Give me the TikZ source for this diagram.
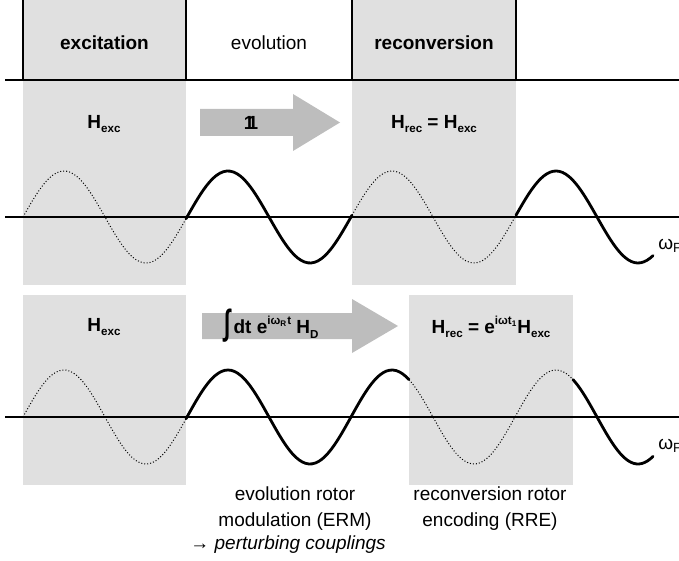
\documentclass[tikz,border=0pt]{standalone}
\usepackage{fontspec}
\setmainfont{Liberation Sans}
\definecolor{panelgray}{HTML}{E0E0E0}
\definecolor{arrowgray}{HTML}{BDBDBD}
\newcommand{\sbs}[1]{\raisebox{-0.45ex}{\fontsize{5.8}{6}\selectfont\bfseries #1}}
\newcommand{\sps}[1]{\raisebox{0.9ex}{\fontsize{5.8}{6}\selectfont\bfseries #1}}
\begin{document}
\begin{tikzpicture}[x=0.5pt,y=-0.5pt,
  greybox/.style={fill=panelgray,draw=none},
  bigarrow/.style={fill=arrowgray,draw=none},
  axisline/.style={line width=0.7pt},
  sepline/.style={line width=0.6pt},
  wsolid/.style={line width=1.4pt,line cap=round},
  wdot/.style={line width=0.5pt,densely dotted},
  lbl/.style={font=\fontsize{9.5}{10.5}\selectfont,inner sep=0pt},
  blbl/.style={font=\fontsize{9.5}{10.5}\selectfont\bfseries,inner sep=0pt}]
\useasboundingbox (0,0) rectangle (679,561);
% shaded columns
\fill[greybox] (23,0) rectangle (186,285);
\fill[greybox] (352,0) rectangle (516,285);
\fill[greybox] (23,295) rectangle (186,485);
\fill[greybox] (409,295) rectangle (573,485);
% header lines
\draw[sepline] (5,80) -- (679,80);
\foreach \xx in {23,186,352,516} \draw[sepline] (\xx,0) -- (\xx,80);
% header labels
\node[blbl] (exc) at (104.5,43) {excitation};
\node[lbl] (evo) at (269,43) {evolution};
\node[blbl] (rec) at (434,43) {reconversion};
% upper panel
\fill[bigarrow] (200,109) -- (293,109) -- (293,94) -- (340,122.5) -- (293,151) -- (293,136) -- (200,136) -- cycle;
\node[blbl] (one) at (251,123) {1\kern-0.37em1};
\node[blbl] (hexcA) at (104,124) {H\sbs{exc}};
\node[blbl] (hrecA) at (434,124) {H\sbs{rec} = H\sbs{exc}};
\draw[axisline] (5,217) -- (679,217);
\draw[wdot] plot[domain=23:186,samples=50,smooth] (\x,{217-46*sin((\x-23)/164*360)});
\draw[wsolid] plot[domain=186:352,samples=50,smooth] (\x,{217-46*sin((\x-23)/164*360)});
\draw[wdot] plot[domain=352:516,samples=50,smooth] (\x,{217-46*sin((\x-23)/164*360)});
\draw[wsolid] plot[domain=516:653,samples=45,smooth] (\x,{217-46*sin((\x-23)/164*360)});
\node[lbl,anchor=west] (omA) at (658,246) {ω\textsubscript{F}};
% lower panel
\fill[bigarrow] (202,313) -- (352,313) -- (352,299) -- (398,326) -- (352,353) -- (352,339) -- (202,339) -- cycle;
\node[blbl,anchor=west] (integ) at (224,326) {\raisebox{-0.1ex}{\scalebox{1}[1.6]{\fontsize{11}{12}\selectfont ∫}}\,dt e\sps{iω\textsubscript{R}t} H\sbs{D}};
\node[blbl] (hexcB) at (104,327) {H\sbs{exc}};
\node[blbl] (hrecB) at (491,327) {H\sbs{rec} = e\sps{iωt\textsubscript{1}}H\sbs{exc}};
\draw[axisline] (5,417) -- (679,417);
\draw[wdot] plot[domain=23:186,samples=50,smooth] (\x,{417-47*sin((\x-23)/164*360)});
\draw[wsolid] plot[domain=186:409,samples=70,smooth] (\x,{417-47*sin((\x-23)/164*360)});
\draw[wdot] plot[domain=409:573,samples=50,smooth] (\x,{417-47*sin((\x-23)/164*360)});
\draw[wsolid] plot[domain=573:653,samples=30,smooth] (\x,{417-47*sin((\x-23)/164*360)});
\node[lbl,anchor=west] (omB) at (658,446) {ω\textsubscript{F}};
% bottom captions
\node[lbl,align=center] (erm) at (295,508.5) {evolution rotor\\[0.55ex]modulation (ERM)};
\node[lbl,align=center] (rre) at (490,508.5) {reconversion rotor\\[0.55ex]encoding (RRE)};
\node[lbl,anchor=west] (pert) at (190,545) {→ \textit{perturbing couplings}};
\end{tikzpicture}
\end{document}
